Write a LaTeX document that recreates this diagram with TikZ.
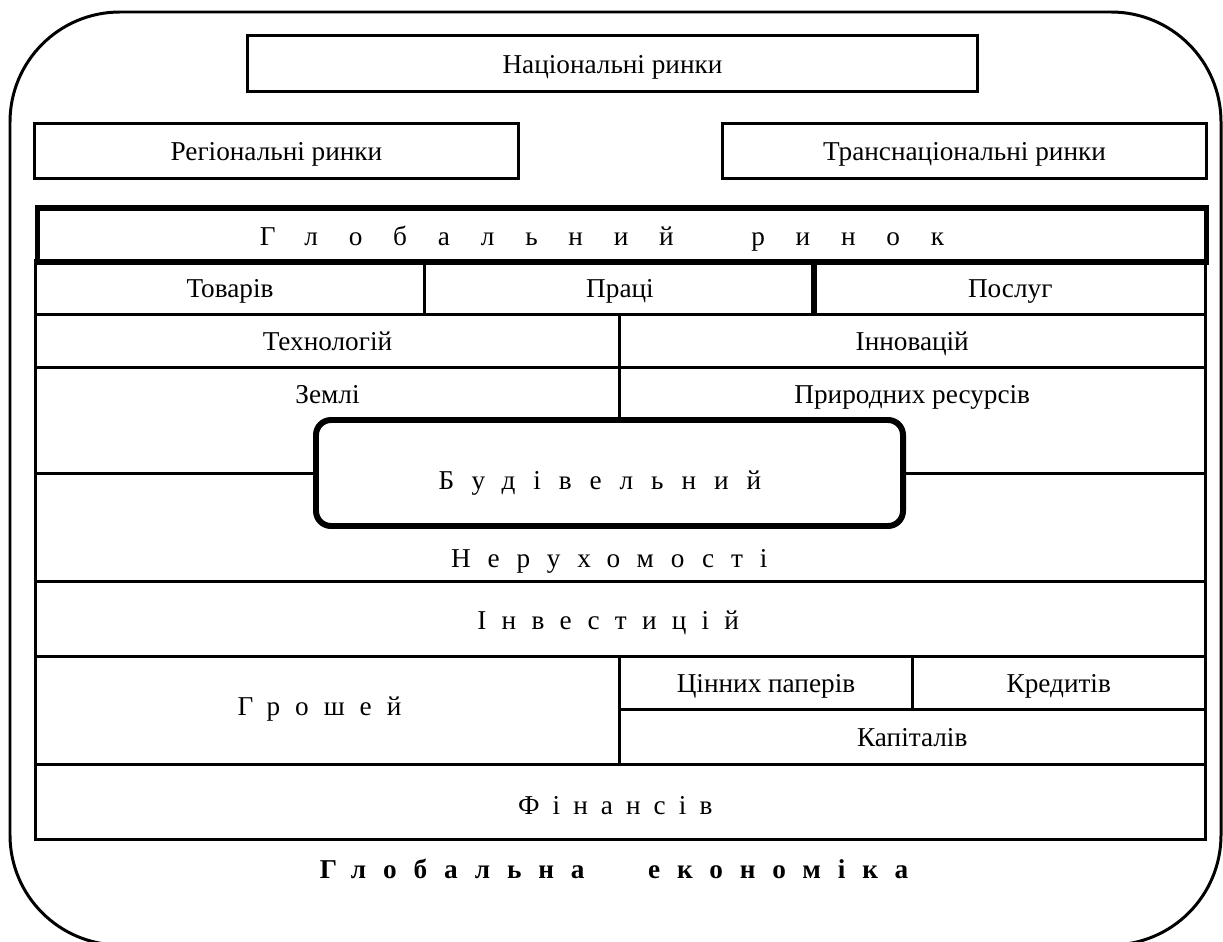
\documentclass[tikz,border=0pt]{standalone}
\usepackage{fontspec}
\setmainfont{Liberation Serif}
\newlength{\px}
\setlength{\px}{0.02cm}
\begin{document}
\begin{tikzpicture}[x=0.02cm, y=-0.02cm]

      \tikzset{txt/.style={font=\fontsize{15.5}{18}\selectfont, text height=11pt, text depth=0pt}}
      \tikzset{spaced/.style={txt, font=\fontsize{15.5}{18}\selectfont\addfontfeature{LetterSpace=#1}}}
      \tikzset{cell/.style={draw, rectangle, line width=1.7pt, inner sep=0pt, anchor=north west, txt}}
      \useasboundingbox (0,0) rectangle (1223,942);

% Ramka
	\draw[line width=1.7pt, rounded corners=2.2cm] (10,12) rectangle (1221,945);

% Rynky zverkhu
	\node[cell, minimum width=730\px, minimum height=56\px] (nats) at (246,34) {Національні ринки};
	\node[cell, minimum width=484\px, minimum height=55\px] (reg) at (33,122) {Регіональні ринки};
	\node[cell, minimum width=484\px, minimum height=55\px] (trans) at (721,122) {Транснаціональні ринки};

% Hlobalnyi rynok
	\node[cell, line width=3.4pt, minimum width=1169\px, minimum height=54\px, label={[spaced=113, anchor=center, xshift=-20\px]center:Глобальний\hspace{40\px} ринок}] (glob) at (34.5,205.5) {};

	%Riad 2
		\node[cell, minimum width=389\px, minimum height=53.5\px] (tov) at (34,259.5) {Товарів};
		\node[cell, minimum width=391\px, minimum height=53.5\px] (prac) at (423,259.5) {Праці};
		\node[cell, minimum width=389.5\px, minimum height=53.5\px] (posl) at (814,259.5) {Послуг};
		\draw[line width=3.2pt] (posl.north west) -- (posl.south west);

	%Riad 3
		\node[cell, minimum width=584\px, minimum height=53\px] (tech) at (34,313) {Технологій};
		\node[cell, minimum width=585.5\px, minimum height=53\px] (innov) at (618,313) {Інновацій};

	%Riad 4
		\node[cell, minimum width=584\px, minimum height=106\px, label={[txt, anchor=center, yshift=-28\px]north:Землі}] (zem) at (34,366) {};
		\node[cell, minimum width=585.5\px, minimum height=106\px, label={[txt, anchor=center, yshift=-28\px]north:Природних ресурсів}] (pryr) at (618,366) {};

	%Riad 5
		\node[cell, minimum width=1169.5\px, minimum height=108\px, label={[spaced=62, anchor=center, xshift=-11\px, yshift=25\px]south:Нерухомості}] (nerukh) at (34,472) {};

	%Riad 6
		\node[cell, minimum width=1169.5\px, minimum height=75\px, label={[spaced=56, anchor=center, xshift=-12\px, yshift=-1\px]center:Інвестицій}] (invest) at (34,580) {};

	%Riad 7
		\node[cell, minimum width=584\px, minimum height=108\px, label={[spaced=55, anchor=center, xshift=-8\px, yshift=5\px]center:Грошей}] (hroshi) at (34,655) {};
		\node[cell, minimum width=293\px, minimum height=53\px] (tsinni) at (618,655) {Цінних паперів};
		\node[cell, minimum width=292.5\px, minimum height=53\px] (kred) at (911,655) {Кредитів};
		\node[cell, minimum width=585.5\px, minimum height=55\px] (kapit) at (618,708) {Капіталів};

	%Riad 8
		\node[cell, minimum width=1169.5\px, minimum height=75\px, label={[spaced=48, anchor=center, xshift=-5\px, yshift=-3\px]center:Фінансів}] (finans) at (34,763) {};

% Budivelnyi
	\node[draw, rectangle, rounded corners=0.3cm, fill=white, line width=3.4pt, minimum width=587\px, minimum height=106\px] (budiv) at (609.5,473) {};
	\node[spaced=66] (budivtxt) at (600,480) {Будівельний};

% Pidpys
	\node[font=\fontsize{15.5}{18}\selectfont\bfseries\addfontfeature{LetterSpace=62}, text height=11pt, text depth=0pt] (ekon) at (614,869) {Глобальна\hspace{40\px} економіка};

\end{tikzpicture}
\end{document}
